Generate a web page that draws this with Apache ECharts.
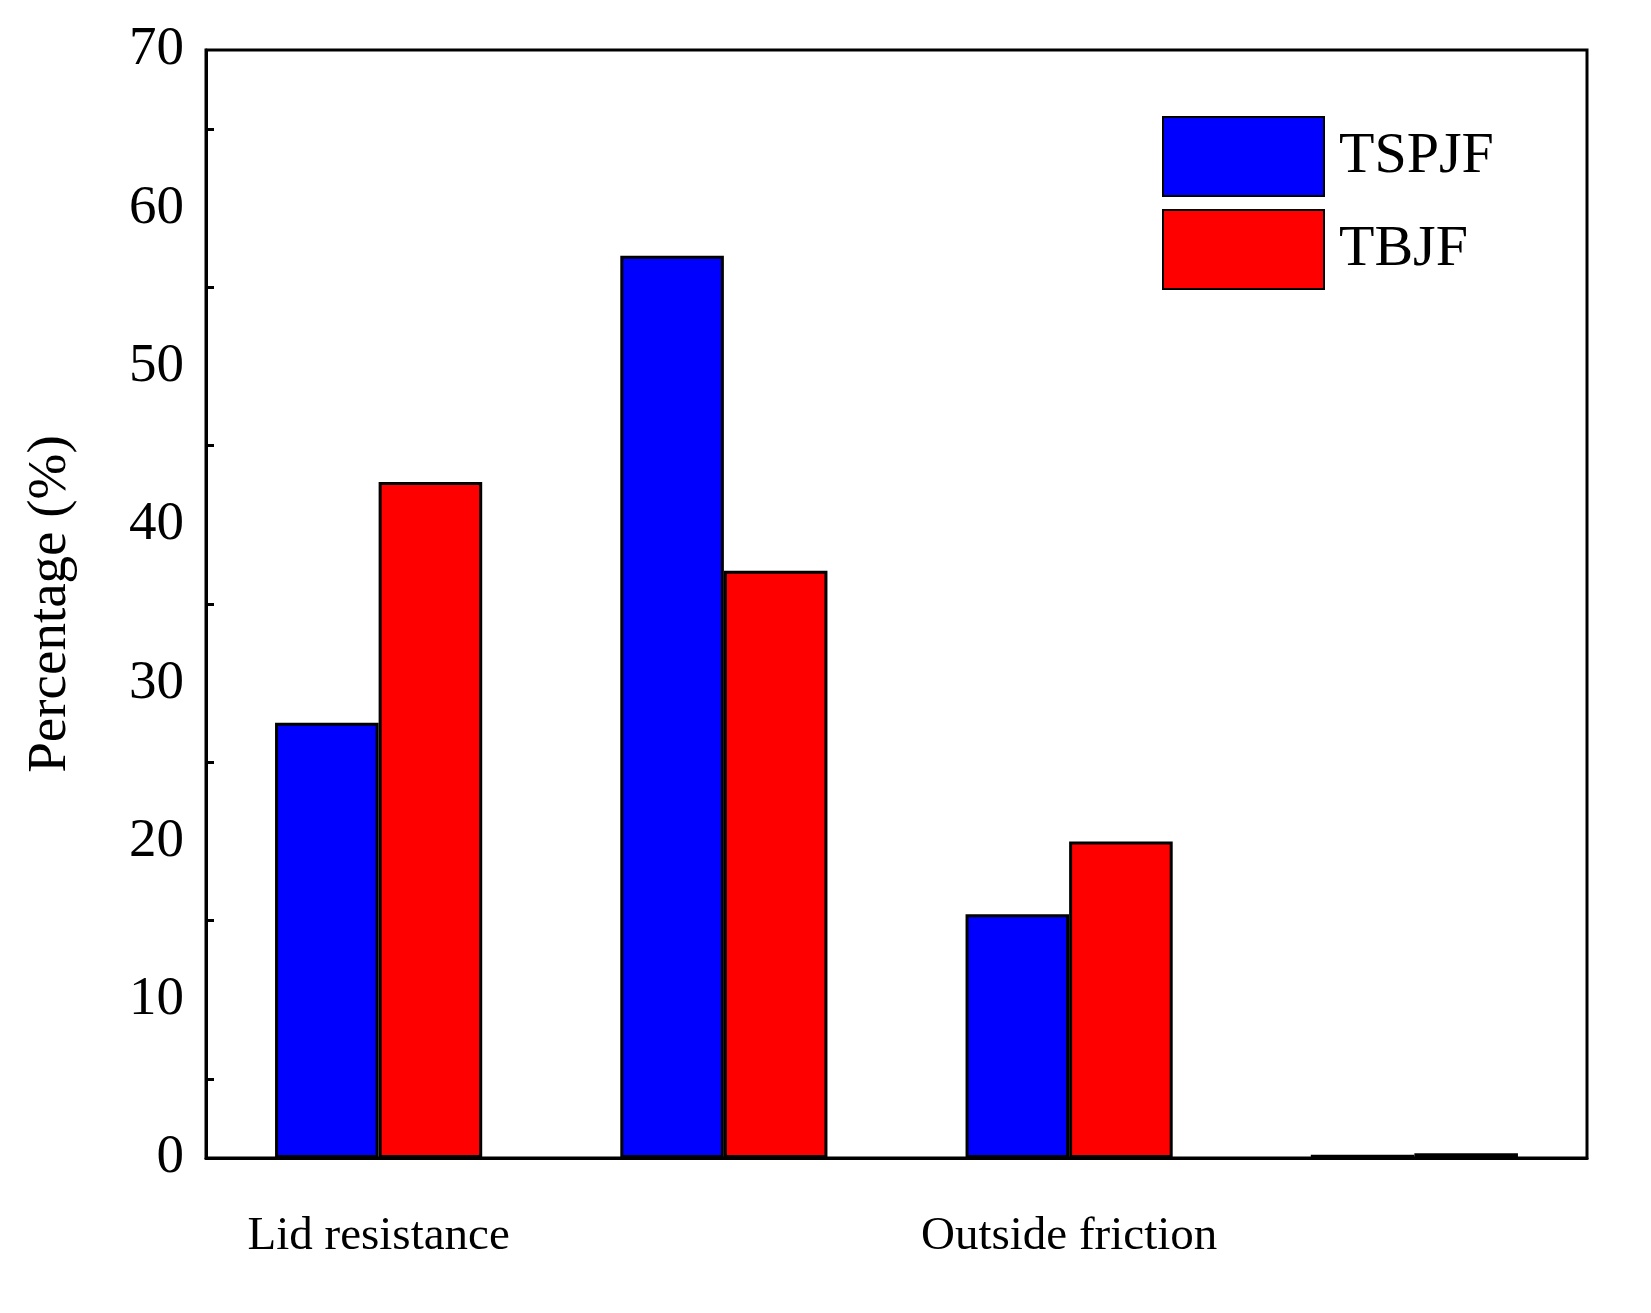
<!DOCTYPE html>
<html><head><meta charset="utf-8">
<script src="https://cdn.jsdelivr.net/npm/echarts@6/dist/echarts.min.js"></script>
<style>html,body{margin:0;padding:0;background:#fff}#c{width:1651px;height:1313px}</style>
</head><body><div id="c"></div>
<script>
const categories = ['Lid resistance','Inside friction','Outside friction','End resistance'];
const tspjf = [27.5, 57.0, 15.4, 0.2];
const tbjf = [42.7, 37.1, 20.0, 0.3];
const F = 'Liberation Serif, Times New Roman, serif';
const chart = echarts.init(document.getElementById('c'));
chart.setOption({
  backgroundColor:'#fff',
  animation:false,
  grid:{left:206,right:64,top:50,bottom:155,show:true,borderColor:'#000',borderWidth:3,backgroundColor:'transparent'},
  legend:{orient:'vertical',left:1157,top:111,itemWidth:161,itemHeight:79,itemGap:12,
    textStyle:{fontFamily:F,fontSize:58,color:'#000',padding:[0,0,0,10]},icon:'rect',
    data:['TSPJF','TBJF']},
  xAxis:{type:'category',data:categories,
    axisLine:{lineStyle:{color:'#000',width:3}},
    axisTick:{inside:true,length:12,lineStyle:{color:'#000',width:3}},
    axisLabel:{fontFamily:F,fontSize:47,color:'#000',margin:55}},
  yAxis:{type:'value',min:0,max:70,interval:10,
    name:'Percentage (%)',nameLocation:'middle',nameGap:128,
    nameTextStyle:{fontFamily:F,fontSize:55,color:'#000'},
    axisLine:{show:true,lineStyle:{color:'#000',width:3}},
    axisTick:{inside:true,length:14,lineStyle:{color:'#000',width:3}},
    minorTick:{show:true,splitNumber:2,length:8,lineStyle:{color:'#000',width:3}},
    splitLine:{show:false},
    axisLabel:{fontFamily:F,fontSize:55,color:'#000',margin:22}},
  series:[
    {name:'TSPJF',type:'bar',data:tspjf,barGap:'0%',barCategoryGap:'40%',
      itemStyle:{color:'#0000ff',borderColor:'#000',borderWidth:3}},
    {name:'TBJF',type:'bar',data:tbjf,
      itemStyle:{color:'#ff0000',borderColor:'#000',borderWidth:3}}
  ]
});
</script></body></html>
